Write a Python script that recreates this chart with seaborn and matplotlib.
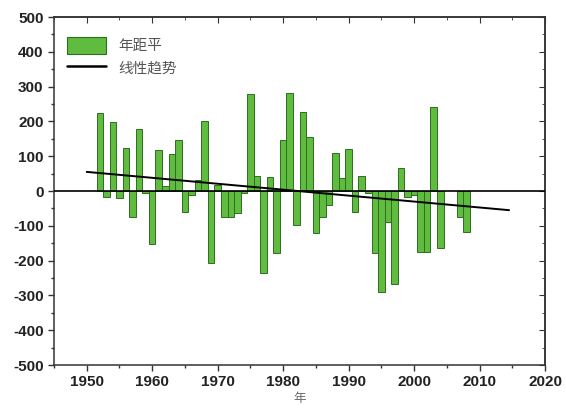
import pandas as pd
import seaborn as sns
import matplotlib.pyplot as plt
from matplotlib.patches import Patch
from matplotlib.lines import Line2D
from matplotlib.ticker import MultipleLocator

# данные
years = [1952, 1953, 1954, 1955, 1956, 1957, 1958, 1959, 1960, 1961,
         1962, 1963, 1964, 1965, 1966, 1967, 1968, 1969, 1970, 1971,
         1972, 1973, 1974, 1975, 1976, 1977, 1978, 1979, 1980, 1981,
         1982, 1983, 1984, 1985, 1986, 1987, 1988, 1989, 1990, 1991,
         1992, 1993, 1994, 1995, 1996, 1997, 1998, 1999, 2000, 2001,
         2002, 2003, 2004, 2007, 2008]
anomaly = [225, -16, 199, -21, 124, -76, 178, -5, -152, 118,
           14, 106, 148, -61, -11, 32, 202, -208, 18, -74,
           -76, -62, -7, 279, 44, -235, 39, -177, 148, 282,
           -98, 228, 156, -120, -76, -40, 108, 36, 121, -59,
           44, -5, -179, -289, -88, -267, 65, -18, -11, -174,
           -174, 240, -165, -76, -119]
trend_years = [1950, 2014.5]
trend_values = [55, -55]

df = pd.DataFrame({'year': years, 'value': anomaly})

sns.set_style('ticks')
plt.rcParams['font.family'] = ['Liberation Sans', 'Noto Sans CJK SC', 'DejaVu Sans']
plt.rcParams['axes.unicode_minus'] = False
cjk = ['Noto Sans CJK SC', 'DejaVu Sans']

bar_color = '#5fbc3e'
edge_color = '#2f6e22'

fig = plt.figure(figsize=(5.66, 4.12), dpi=100)
ax = fig.add_axes([0.0954, 0.114, 0.8676, 0.8447])

sns.barplot(data=df, x='year', y='value', native_scale=True, width=1.0,
            color=bar_color, saturation=1, edgecolor=edge_color,
            linewidth=0.7, ax=ax)
ax.axhline(0, color='black', lw=1.2, zorder=3)
sns.lineplot(x=trend_years, y=trend_values, color='black', lw=1.4, ax=ax)

ax.set_xlim(1945, 2020)
ax.set_ylim(-500, 500)
ax.xaxis.set_major_locator(MultipleLocator(10))
ax.xaxis.set_minor_locator(MultipleLocator(5))
ax.yaxis.set_major_locator(MultipleLocator(100))
ax.yaxis.set_minor_locator(MultipleLocator(50))
ax.tick_params(which='major', direction='out', length=4, width=1, color='#333333')
ax.tick_params(which='minor', direction='out', length=2.5, width=1, color='#333333')
for lab in ax.get_xticklabels() + ax.get_yticklabels():
    lab.set_fontweight('bold')
    lab.set_fontsize(11)
    lab.set_color('#222222')

for s in ax.spines.values():
    s.set_visible(True)
    s.set_linewidth(1.1)
    s.set_color('#333333')

# зеркальные засечки сверху и справа (внутрь)
top = ax.secondary_xaxis('top')
top.xaxis.set_major_locator(MultipleLocator(10))
top.xaxis.set_minor_locator(MultipleLocator(5))
top.tick_params(which='major', direction='in', length=4, labeltop=False, color='#333333')
top.tick_params(which='minor', direction='in', length=2.5, labeltop=False, color='#333333')
right = ax.secondary_yaxis('right')
right.yaxis.set_major_locator(MultipleLocator(100))
right.yaxis.set_minor_locator(MultipleLocator(50))
right.tick_params(which='major', direction='in', length=4, labelright=False, color='#333333')
right.tick_params(which='minor', direction='in', length=2.5, labelright=False, color='#333333')
for sa in (top, right):
    for s in sa.spines.values():
        s.set_linewidth(1.1)
        s.set_color('#333333')

ax.set_xlabel('年', family=cjk, fontsize=9, color='#666666', labelpad=2)
ax.set_ylabel('')

handles = [Patch(facecolor=bar_color, edgecolor=edge_color, linewidth=0.8),
           Line2D([], [], color='black', lw=1.8)]
leg = ax.legend(handles, ['年距平', '线性趋势'], loc='upper left', frameon=False,
                prop={'family': cjk, 'size': 10.5}, handlelength=2.7, handleheight=1.4,
                handletextpad=0.8, labelspacing=0.35, borderaxespad=0.5,
                bbox_to_anchor=(0.0, 0.98))
for t in leg.get_texts():
    t.set_color('#555555')

fig.savefig('out.png', dpi=100)
